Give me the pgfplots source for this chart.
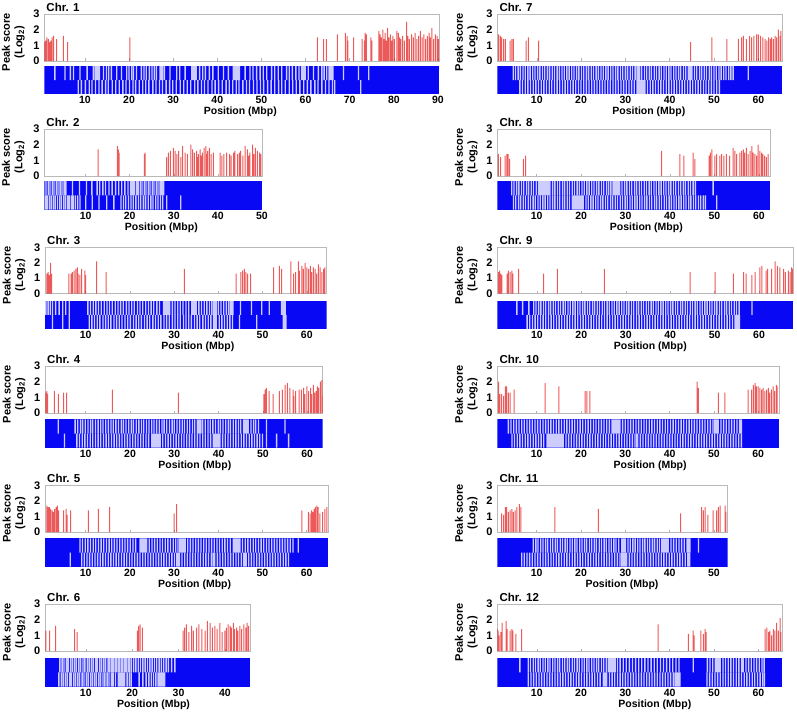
\documentclass[border=0pt]{standalone}
\usepackage{fontspec}
\setmainfont{Liberation Sans}
\usepackage{pgfplots}
\pgfplotsset{compat=1.18}
\definecolor{pk}{RGB}{228,18,18}
\definecolor{bb}{RGB}{8,8,245}
\newcommand\tf{\bfseries\fontsize{10.5}{12}\selectfont}
\newcommand\yf{\bfseries\fontsize{11}{12.5}\selectfont}
\pgfplotsset{
  /pgf/number format/assume math mode=true,
  topax/.style={scale only axis, anchor=north west, ymin=0, ymax=3, ytick={0,1,2,3},
    xtick={10,20,...,90}, xticklabels={}, xtick pos=bottom, ytick pos=left, tick align=inside,
    major tick length=2.5pt, x tick style={gray!60, line width=0.5pt}, y tick style={draw=none},
    axis line style={gray!55, line width=0.6pt},
    yticklabel style={font=\yf, inner sep=0pt, xshift=-4.5pt},
    every axis title/.style={at={(axis description cs:0,1)}, anchor=base west, xshift=2pt, yshift=3pt, inner sep=0pt, font=\bfseries\fontsize{11.5}{13}\selectfont},
    ylabel={Peak score\\(Log\textsubscript{2})},
    every axis y label/.style={at={(axis description cs:0,0.4)}, xshift=-31pt, rotate=90, anchor=center, align=center, font=\yf},
  },
  stripax/.style={scale only axis, anchor=north west, ymin=-1, ymax=1, ytick=\empty,
    xtick={10,20,...,90}, major tick length=0pt, axis line style={draw=none},
    xticklabel style={font=\tf, inner sep=2pt},
    xlabel={Position (Mbp)}, xlabel style={font=\tf, inner sep=1pt}},
  pkbar/.style={ybar, bar width=1pt, bar shift=0pt, fill=pk, draw=none, fill opacity=0.7},
  gapbar/.style={ybar, bar width=0.3, bar shift=0pt, fill=white, draw=none, fill opacity=0.8},
  bluefill/.style={fill=bb, draw=none},
}
\begin{document}
\begin{tikzpicture}
\path[use as bounding box] (0pt,0pt) rectangle (797pt,-712pt);
% ================= Chr 1 =================
\begin{axis}[topax, at={(44.3pt,-14pt)}, width=395pt, height=47pt, xmin=0.8, xmax=90.3, title={Chr. 1}]
\addplot[pkbar] coordinates {(0.9,1.2)(1.1,1.3)(1.4,1.5)(1.7,1.4)(2.0,1.2)(2.3,1.3)(2.6,1.5)(2.9,1.6)(3.6,1.4)(5.1,1.6)(6.1,1.2)(20.2,1.5)(62.7,1.5)(64.1,1.4)(64.7,1.4)(67.2,1.7)(69.0,1.8)(69.4,1.6)(69.6,1.3)(70.9,1.5)(72.8,1.4)(73.3,1.3)(73.5,1.8)(73.8,1.7)(74.8,1.5)(75.0,1.3)(76.6,1.9)(76.9,1.7)(77.2,1.5)(77.5,2.0)(77.8,1.4)(78.0,1.8)(78.3,1.3)(78.6,2.1)(78.9,1.5)(79.2,1.7)(79.5,1.3)(79.8,1.6)(80.1,1.4)(80.7,1.9)(81.0,1.8)(81.3,1.5)(81.6,1.4)(82.0,1.6)(82.4,1.3)(82.9,2.5)(83.2,1.6)(83.5,1.4)(84.0,1.7)(84.4,1.5)(84.8,1.8)(85.2,1.4)(85.6,1.6)(86.0,1.9)(86.4,1.5)(86.8,1.7)(87.2,1.4)(87.6,1.6)(88.0,1.8)(88.3,1.5)(88.6,2.1)(89.0,1.4)(89.4,1.7)(89.8,1.6)(90.1,1.4)};
\end{axis}
\begin{axis}[stripax, at={(44.3pt,-65.7pt)}, width=395pt, height=28.6pt, xmin=0.8, xmax=90.3, xlabel style={xshift=-1.5pt}]
\addplot[bluefill] coordinates {(0.8,-1)(90.3,-1)(90.3,1)(0.8,1)} -- cycle;
\addplot[gapbar] coordinates {(3.2,1)(5.5,1)(6.7,1)(7.4,1)(8.9,1)(10.5,1)(11.9,1)(12.3,1)(12.5,1)(12.7,1)(12.9,1)(13.1,1)(13.3,1)(14.2,1)(14.9,1)(15.4,1)(16.0,1)(17.2,1)(18.3,1)(19.5,1)(20.0,1)(20.6,1)(21.0,1)(21.7,1)(22.8,1)(23.4,1)(23.9,1)(24.6,1)(25.2,1)(25.7,1)(26.2,1)(27.0,1)(27.3,1)(27.6,1)(28.0,1)(29.3,1)(30.8,1)(31.5,1)(32.7,1)(34.2,1)(34.4,1)(34.6,1)(34.8,1)(35.0,1)(35.2,1)(36.0,1)(36.7,1)(37.3,1)(38.2,1)(39.0,1)(40.2,1)(41.4,1)(42.5,1)(43.6,1)(43.8,1)(44.0,1)(44.2,1)(44.4,1)(44.7,1)(45.0,1)(46.3,1)(47.4,1)(48.1,1)(48.9,1)(49.7,1)(50.4,1)(51.2,1)(52.3,1)(53.0,1)(53.8,1)(54.6,1)(55.7,1)(56.3,1)(57.0,1)(57.8,1)(58.5,1)(59.1,1)(59.3,1)(59.5,1)(59.7,1)(59.9,1)(60.6,1)(61.8,1)(62.9,1)(63.7,1)(64.2,1)(64.8,1)(65.3,1)(65.6,1)(65.9,1)(66.2,1)(68.6,1)(72.0,1)(74.3,1)};
\addplot[gapbar] coordinates {(8.5,-1)(9.2,-1)(10.1,-1)(11.0,-1)(11.6,-1)(12.4,-1)(13.2,-1)(13.9,-1)(14.7,-1)(15.3,-1)(16.2,-1)(17.0,-1)(17.8,-1)(18.6,-1)(19.3,-1)(20.1,-1)(20.9,-1)(21.5,-1)(22.3,-1)(23.1,-1)(23.8,-1)(24.5,-1)(25.4,-1)(26.1,-1)(26.9,-1)(27.6,-1)(28.4,-1)(29.2,-1)(29.9,-1)(30.7,-1)(31.6,-1)(32.4,-1)(33.2,-1)(34.0,-1)(34.9,-1)(35.6,-1)(36.4,-1)(37.1,-1)(37.9,-1)(38.8,-1)(39.5,-1)(40.3,-1)(41.1,-1)(42.0,-1)(42.7,-1)(43.5,-1)(44.3,-1)(44.9,-1)(45.8,-1)(46.6,-1)(47.3,-1)(48.2,-1)(49.0,-1)(49.8,-1)(50.5,-1)(51.4,-1)(52.2,-1)(53.0,-1)(53.9,-1)(54.6,-1)(55.4,-1)(56.3,-1)(57.1,-1)(57.9,-1)(58.7,-1)(59.6,-1)(60.4,-1)(61.2,-1)(62.1,-1)(62.8,-1)(63.7,-1)(64.5,-1)(65.3,-1)(66.1,-1)(66.6,-1)(72.5,-1)};
\end{axis}
% ================= Chr 2 =================
\begin{axis}[topax, at={(44.3pt,-129pt)}, width=218pt, height=47pt, xmin=0.6, xmax=50.1, title={Chr. 2}]
\addplot[pkbar] coordinates {(12.8,1.7)(17.2,1.9)(17.4,1.7)(17.6,1.5)(23.3,1.4)(23.5,1.5)(28.4,1.2)(28.8,1.5)(29.2,1.6)(29.9,1.8)(30.3,1.6)(30.7,1.4)(31.1,1.6)(31.6,1.2)(32.0,1.9)(32.6,1.5)(33.1,1.4)(33.9,2.0)(34.3,1.7)(34.7,1.5)(35.2,1.6)(35.4,1.2)(35.6,1.4)(36.0,1.7)(36.2,1.3)(36.5,1.5)(36.9,1.8)(37.3,1.9)(37.5,1.4)(37.7,1.6)(38.1,1.8)(38.5,1.4)(39.0,1.5)(40.5,1.5)(40.9,1.3)(41.4,1.4)(42.0,1.5)(42.7,1.4)(43.0,1.3)(43.6,1.5)(43.9,1.6)(44.5,1.4)(44.9,1.5)(45.2,1.6)(45.7,1.3)(46.2,1.9)(46.7,1.7)(47.0,1.3)(47.3,1.5)(47.9,2.0)(48.2,1.4)(48.5,1.8)(49.0,1.6)(49.5,1.5)(49.8,1.4)};
\end{axis}
\begin{axis}[stripax, at={(44.3pt,-181pt)}, width=218pt, height=28.7pt, xmin=0.6, xmax=50.1, xlabel style={xshift=8pt}]
\addplot[bluefill] coordinates {(0.6,-1)(50.1,-1)(50.1,1)(0.6,1)} -- cycle;
\addplot[gapbar] coordinates {(1.0,1)(1.5,1)(1.9,1)(2.4,1)(2.8,1)(3.3,1)(3.7,1)(4.2,1)(4.6,1)(5.1,1)(5.5,1)(7.0,1)(8.6,1)(10.2,1)(11.4,1)(12.6,1)(13.2,1)(13.9,1)(14.5,1)(15.3,1)(16.0,1)(16.8,1)(17.5,1)(18.2,1)(18.9,1)(19.6,1)(20.2,1)(20.6,1)(21.0,1)(21.5,1)(21.9,1)(22.4,1)(22.8,1)(23.3,1)(23.7,1)(24.2,1)(24.6,1)(25.1,1)(25.5,1)(26.0,1)(26.4,1)(26.9,1)(27.3,1)(27.7,1)};
\addplot[gapbar] coordinates {(0.9,-1)(1.3,-1)(1.8,-1)(2.2,-1)(2.7,-1)(3.1,-1)(3.6,-1)(4.1,-1)(4.5,-1)(5.0,-1)(5.4,-1)(5.9,-1)(6.3,-1)(6.8,-1)(7.2,-1)(7.7,-1)(8.2,-1)(8.7,-1)(10.0,-1)(11.5,-1)(13.0,-1)(14.8,-1)(16.4,-1)(18.0,-1)(18.6,-1)(19.1,-1)(19.7,-1)(20.3,-1)(20.8,-1)(21.4,-1)(22.0,-1)(22.5,-1)(23.1,-1)(23.6,-1)(24.2,-1)(24.8,-1)(25.3,-1)(25.9,-1)(26.4,-1)(27.0,-1)(27.5,-1)(28.4,-1)(31.6,-1)};
\end{axis}
% ================= Chr 3 =================
\begin{axis}[topax, at={(45pt,-247.5pt)}, width=281.7pt, height=46pt, xmin=0.8, xmax=64.5, title={Chr. 3}]
\addplot[pkbar] coordinates {(1.2,1.3)(1.5,1.4)(1.8,1.2)(2.1,2.0)(2.3,1.3)(6.2,1.3)(6.7,1.3)(7.0,1.4)(7.4,1.5)(7.8,1.6)(8.1,1.7)(8.3,1.3)(8.7,1.2)(9.1,1.6)(9.8,1.5)(10.0,1.2)(12.5,2.1)(14.6,1.4)(32.3,1.6)(44.0,1.3)(45.1,1.4)(45.5,1.5)(45.9,1.6)(46.2,1.4)(46.6,1.3)(47.3,1.3)(52.5,1.7)(53.8,1.8)(54.3,1.6)(56.4,2.1)(57.0,1.3)(57.5,1.4)(58.1,2.1)(58.3,1.5)(58.9,1.8)(59.2,1.6)(59.6,2.0)(60.0,1.7)(60.4,1.6)(60.8,1.8)(61.1,1.4)(61.5,1.7)(61.9,1.6)(62.2,1.3)(62.6,1.9)(63.0,1.7)(63.4,1.4)(63.8,1.6)(64.1,1.7)};
\end{axis}
\begin{axis}[stripax, at={(45pt,-300.7pt)}, width=281.7pt, height=28.3pt, xmin=0.8, xmax=64.5, xlabel style={xshift=12pt}]
\addplot[bluefill] coordinates {(0.8,-1)(64.5,-1)(64.5,1)(0.8,1)} -- cycle;
\addplot[gapbar] coordinates {(1.0,1)(1.5,1)(2.0,1)(2.5,1)(3.2,1)(4.0,1)(4.8,1)(5.5,1)(6.3,1)(10.5,1)(11.1,1)(11.7,1)(12.3,1)(12.9,1)(13.5,1)(14.2,1)(14.8,1)(15.4,1)(16.0,1)(16.7,1)(17.3,1)(17.9,1)(18.5,1)(19.2,1)(19.8,1)(20.4,1)(21.0,1)(21.7,1)(22.3,1)(22.9,1)(23.6,1)(24.2,1)(24.8,1)(25.4,1)(26.1,1)(26.7,1)(27.6,1)(27.8,1)(28.0,1)(28.2,1)(28.4,1)(28.6,1)(28.8,1)(29.0,1)(29.6,1)(30.2,1)(30.8,1)(31.4,1)(32.0,1)(32.7,1)(33.3,1)(34.0,1)(34.2,1)(34.4,1)(34.6,1)(34.8,1)(35.0,1)(35.6,1)(36.2,1)(36.8,1)(37.4,1)(38.0,1)(38.5,1)(38.9,1)(39.1,1)(39.3,1)(39.5,1)(40.0,1)(40.6,1)(41.2,1)(41.8,1)(42.3,1)(42.7,1)(42.9,1)(43.1,1)(43.3,1)(45.0,1)(47.5,1)(49.8,1)(51.5,1)(54.3,1)(54.5,1)(54.7,1)(54.9,1)(55.1,1)};
\addplot[gapbar] coordinates {(2.5,-1)(4.8,-1)(6.3,-1)(10.8,-1)(11.4,-1)(12.0,-1)(12.6,-1)(13.2,-1)(13.9,-1)(14.5,-1)(15.1,-1)(15.7,-1)(16.4,-1)(17.0,-1)(17.6,-1)(18.2,-1)(18.9,-1)(19.5,-1)(20.1,-1)(20.8,-1)(21.4,-1)(22.0,-1)(22.6,-1)(23.3,-1)(23.9,-1)(24.5,-1)(25.2,-1)(25.8,-1)(26.4,-1)(27.0,-1)(27.7,-1)(28.3,-1)(28.9,-1)(29.6,-1)(30.2,-1)(30.8,-1)(31.4,-1)(32.1,-1)(32.7,-1)(33.3,-1)(33.9,-1)(34.6,-1)(35.2,-1)(35.8,-1)(36.5,-1)(37.1,-1)(37.7,-1)(38.3,-1)(38.9,-1)(39.1,-1)(39.3,-1)(39.5,-1)(40.2,-1)(40.8,-1)(41.4,-1)(42.0,-1)(42.6,-1)(43.2,-1)(44.8,-1)(48.7,-1)(54.7,-1)(54.9,-1)(55.1,-1)(55.3,-1)};
\end{axis}
% ================= Chr 4 =================
\begin{axis}[topax, at={(45pt,-366pt)}, width=277.7pt, height=47pt, xmin=0.8, xmax=63.5, title={Chr. 4}]
\addplot[pkbar] coordinates {(1.0,1.3)(1.2,1.4)(1.4,1.2)(2.9,1.4)(3.8,1.2)(5.0,1.3)(5.7,1.3)(16.0,1.5)(30.9,1.3)(50.2,1.2)(50.5,1.5)(50.8,1.6)(51.4,1.4)(52.3,1.2)(53.7,1.4)(54.4,1.5)(55.0,1.8)(55.5,1.9)(56.1,1.6)(56.8,1.5)(57.0,1.1)(57.4,1.4)(58.2,1.5)(58.7,1.5)(59.2,1.6)(59.5,1.2)(59.9,1.7)(60.3,1.4)(60.8,1.6)(61.0,1.2)(61.4,1.8)(61.7,1.3)(62.0,1.4)(62.3,1.7)(62.6,1.6)(63.0,2.0)(63.3,2.1)(63.4,1.1)};
\end{axis}
\begin{axis}[stripax, at={(45pt,-419.3pt)}, width=277.7pt, height=28.4pt, xmin=0.8, xmax=63.5, xlabel style={xshift=11pt}]
\addplot[bluefill] coordinates {(0.8,-1)(63.5,-1)(63.5,1)(0.8,1)} -- cycle;
\addplot[gapbar] coordinates {(3.8,1)(7.6,1)(8.2,1)(8.8,1)(9.3,1)(9.9,1)(10.5,1)(11.1,1)(11.6,1)(12.2,1)(12.8,1)(13.4,1)(13.9,1)(14.5,1)(15.1,1)(15.7,1)(16.2,1)(16.8,1)(17.4,1)(18.0,1)(18.5,1)(19.1,1)(19.7,1)(20.3,1)(20.8,1)(21.4,1)(22.0,1)(22.6,1)(23.1,1)(23.7,1)(24.3,1)(24.9,1)(25.4,1)(26.0,1)(26.6,1)(27.2,1)(27.7,1)(28.3,1)(28.9,1)(29.5,1)(30.0,1)(30.6,1)(31.2,1)(31.8,1)(32.3,1)(32.9,1)(33.5,1)(34.1,1)(34.6,1)(35.2,1)(35.6,1)(35.8,1)(36.0,1)(36.4,1)(37.0,1)(37.6,1)(38.1,1)(38.7,1)(39.3,1)(39.9,1)(40.4,1)(41.0,1)(41.6,1)(42.2,1)(42.7,1)(43.3,1)(43.9,1)(44.5,1)(45.0,1)(45.6,1)(45.9,1)(46.1,1)(46.3,1)(46.5,1)(46.7,1)(47.3,1)(47.9,1)(48.4,1)(49.0,1)(50.8,1)(55.0,1)};
\addplot[gapbar] coordinates {(5.2,-1)(8.0,-1)(8.6,-1)(9.2,-1)(9.8,-1)(10.4,-1)(11.0,-1)(11.6,-1)(12.2,-1)(12.8,-1)(13.4,-1)(14.0,-1)(14.6,-1)(15.2,-1)(15.8,-1)(16.4,-1)(17.0,-1)(17.6,-1)(18.2,-1)(18.8,-1)(19.4,-1)(20.0,-1)(20.6,-1)(21.2,-1)(21.8,-1)(22.4,-1)(23.0,-1)(23.6,-1)(24.2,-1)(24.9,-1)(25.1,-1)(25.3,-1)(25.5,-1)(25.7,-1)(25.9,-1)(26.1,-1)(26.3,-1)(26.5,-1)(26.8,-1)(27.4,-1)(28.0,-1)(28.6,-1)(29.2,-1)(29.8,-1)(30.4,-1)(31.0,-1)(31.6,-1)(32.2,-1)(32.8,-1)(33.4,-1)(34.0,-1)(34.6,-1)(35.2,-1)(35.8,-1)(36.4,-1)(37.0,-1)(37.6,-1)(38.2,-1)(38.8,-1)(39.0,-1)(39.2,-1)(39.4,-1)(39.6,-1)(39.8,-1)(40.0,-1)(40.3,-1)(40.9,-1)(41.5,-1)(42.1,-1)(42.7,-1)(43.3,-1)(43.9,-1)(44.5,-1)(45.1,-1)(45.7,-1)(46.3,-1)(46.9,-1)(47.5,-1)(48.1,-1)(48.7,-1)(49.3,-1)(49.9,-1)(50.8,-1)(53.1,-1)(55.8,-1)};
\end{axis}
% ================= Chr 5 =================
\begin{axis}[topax, at={(45pt,-485.5pt)}, width=283.3pt, height=46.5pt, xmin=0.8, xmax=64.9, title={Chr. 5}]
\addplot[pkbar] coordinates {(1.2,1.7)(1.5,1.6)(1.8,1.6)(2.1,1.5)(2.4,1.4)(2.7,1.3)(3.0,1.5)(3.3,1.6)(3.6,1.7)(3.9,1.4)(5.0,1.4)(5.6,1.5)(5.8,1.1)(6.6,1.4)(10.6,1.4)(12.9,1.5)(15.4,1.6)(30.0,1.2)(30.6,1.8)(58.9,1.4)(60.4,1.3)(60.8,1.2)(61.1,1.4)(61.4,1.3)(61.7,1.5)(62.0,1.6)(62.3,1.7)(62.6,1.6)(63.0,1.2)(63.6,1.3)(64.1,1.5)(64.6,1.6)};
\end{axis}
\begin{axis}[stripax, at={(45pt,-538.3pt)}, width=283.3pt, height=28.4pt, xmin=0.8, xmax=64.9, xlabel style={xshift=8pt}]
\addplot[bluefill] coordinates {(0.8,-1)(64.9,-1)(64.9,1)(0.8,1)} -- cycle;
\addplot[gapbar] coordinates {(8.7,1)(9.3,1)(9.9,1)(10.5,1)(11.1,1)(11.7,1)(12.3,1)(12.9,1)(13.5,1)(14.1,1)(14.7,1)(15.3,1)(15.9,1)(16.5,1)(17.1,1)(17.7,1)(18.3,1)(18.9,1)(19.5,1)(20.1,1)(20.7,1)(21.3,1)(22.3,1)(22.5,1)(22.7,1)(22.9,1)(23.1,1)(23.3,1)(23.5,1)(23.8,1)(24.4,1)(25.0,1)(25.6,1)(26.2,1)(26.8,1)(27.4,1)(28.0,1)(28.6,1)(29.2,1)(29.8,1)(30.4,1)(30.9,1)(31.3,1)(31.5,1)(31.7,1)(31.9,1)(32.1,1)(32.3,1)(32.5,1)(33.1,1)(33.7,1)(34.3,1)(34.9,1)(35.5,1)(36.1,1)(36.7,1)(37.3,1)(37.9,1)(38.5,1)(39.1,1)(39.7,1)(40.3,1)(40.9,1)(41.5,1)(42.1,1)(42.7,1)(43.4,1)(43.6,1)(43.8,1)(44.0,1)(44.2,1)(44.4,1)(44.6,1)(44.9,1)(45.5,1)(46.1,1)(46.7,1)(47.3,1)(47.9,1)(48.5,1)(49.1,1)(49.7,1)(50.3,1)(50.9,1)(51.5,1)(52.1,1)(52.7,1)(53.3,1)(53.9,1)(54.5,1)(55.1,1)(55.7,1)(56.3,1)(56.9,1)(58.1,1)};
\addplot[gapbar] coordinates {(6.5,-1)(9.1,-1)(9.7,-1)(10.3,-1)(10.9,-1)(11.5,-1)(12.1,-1)(12.7,-1)(13.3,-1)(13.9,-1)(14.5,-1)(15.1,-1)(15.7,-1)(16.3,-1)(16.9,-1)(17.5,-1)(18.1,-1)(18.7,-1)(19.3,-1)(19.9,-1)(20.5,-1)(21.1,-1)(21.7,-1)(22.3,-1)(22.9,-1)(23.5,-1)(24.1,-1)(24.7,-1)(25.3,-1)(25.9,-1)(26.5,-1)(27.1,-1)(27.7,-1)(28.3,-1)(28.9,-1)(29.5,-1)(30.1,-1)(30.6,-1)(30.8,-1)(31.0,-1)(31.2,-1)(31.8,-1)(32.4,-1)(33.0,-1)(33.6,-1)(34.2,-1)(34.8,-1)(35.4,-1)(36.0,-1)(36.6,-1)(37.2,-1)(37.8,-1)(38.4,-1)(38.8,-1)(39.0,-1)(39.2,-1)(39.8,-1)(40.4,-1)(41.0,-1)(41.6,-1)(42.2,-1)(42.8,-1)(43.4,-1)(44.0,-1)(44.6,-1)(45.2,-1)(45.7,-1)(45.9,-1)(46.1,-1)(46.3,-1)(46.9,-1)(47.5,-1)(48.1,-1)(48.7,-1)(49.3,-1)(49.9,-1)(50.5,-1)(51.1,-1)(51.7,-1)(52.3,-1)(52.9,-1)(53.5,-1)(54.1,-1)(54.7,-1)(55.3,-1)(55.9,-1)};
\end{axis}
% ================= Chr 6 =================
\begin{axis}[topax, at={(45pt,-604pt)}, width=205pt, height=47pt, xmin=1.2, xmax=45.4, title={Chr. 6}]
\addplot[pkbar] coordinates {(1.4,1.3)(2.2,1.3)(3.5,1.6)(7.6,1.4)(8.1,1.2)(21.1,1.3)(21.4,1.6)(21.7,1.7)(22.2,1.5)(31.0,1.3)(31.3,1.5)(31.7,1.7)(32.2,1.2)(32.8,1.6)(33.2,1.3)(33.9,1.5)(34.4,1.7)(35.0,1.4)(35.7,1.3)(36.2,1.9)(36.8,1.8)(37.3,1.5)(37.8,1.6)(38.3,1.4)(38.9,1.8)(39.4,1.2)(40.0,1.3)(40.3,1.5)(40.7,1.7)(41.1,1.6)(41.4,1.5)(41.8,1.8)(42.1,1.4)(42.5,1.5)(42.8,1.3)(43.2,1.6)(43.6,1.4)(44.1,1.7)(44.5,1.5)(44.8,1.8)(45.1,1.6)};
\end{axis}
\begin{axis}[stripax, at={(45pt,-658pt)}, width=205pt, height=28.7pt, xmin=1.2, xmax=45.4, xlabel style={xshift=6pt}]
\addplot[bluefill] coordinates {(1.2,-1)(45.4,-1)(45.4,1)(1.2,1)} -- cycle;
\addplot[gapbar] coordinates {(4.4,1)(4.9,1)(5.3,1)(5.8,1)(6.2,1)(6.7,1)(7.1,1)(7.6,1)(8.0,1)(8.5,1)(8.9,1)(9.4,1)(9.8,1)(10.3,1)(10.7,1)(11.2,1)(11.6,1)(12.1,1)(12.5,1)(13.0,1)(13.4,1)(13.9,1)(14.3,1)(14.8,1)(15.2,1)(15.6,1)(15.9,1)(16.3,1)(16.6,1)(17.0,1)(17.3,1)(17.7,1)(18.0,1)(18.4,1)(18.7,1)(19.1,1)(19.4,1)(19.8,1)(20.3,1)(20.8,1)(21.3,1)(21.8,1)(22.3,1)(22.8,1)(23.3,1)(23.8,1)(24.3,1)(24.8,1)(25.3,1)(25.8,1)(26.3,1)(26.8,1)(27.3,1)(27.8,1)(28.5,1)(29.2,1)};
\addplot[gapbar] coordinates {(4.2,-1)(4.7,-1)(5.1,-1)(5.6,-1)(6.0,-1)(6.5,-1)(6.9,-1)(7.4,-1)(7.8,-1)(8.3,-1)(8.7,-1)(9.2,-1)(9.6,-1)(10.1,-1)(10.5,-1)(11.0,-1)(11.4,-1)(11.9,-1)(12.3,-1)(12.8,-1)(13.2,-1)(13.7,-1)(14.1,-1)(14.6,-1)(15.0,-1)(15.5,-1)(15.9,-1)(16.4,-1)(17.0,-1)(17.2,-1)(17.4,-1)(17.6,-1)(17.8,-1)(18.0,-1)(18.2,-1)(18.4,-1)(18.9,-1)(19.4,-1)(19.8,-1)(21.5,-1)(22.3,-1)(23.0,-1)(23.6,-1)(24.1,-1)(24.6,-1)(25.1,-1)(25.6,-1)(25.8,-1)(26.0,-1)(26.2,-1)(26.4,-1)(26.6,-1)(26.8,-1)(27.0,-1)};
\end{axis}
% ================= Chr 7 =================
\begin{axis}[topax, at={(497.3pt,-14pt)}, width=285pt, height=47pt, xmin=1.1, xmax=65.4, title={Chr. 7}]
\addplot[pkbar] coordinates {(1.4,1.7)(1.8,1.6)(2.1,1.5)(2.5,1.4)(2.9,1.4)(4.0,1.3)(4.4,1.4)(4.7,1.4)(7.6,1.3)(8.1,1.5)(10.4,1.3)(44.7,1.2)(49.5,1.5)(52.9,1.4)(55.5,1.4)(56.2,1.5)(56.6,1.6)(57.3,1.4)(58.0,1.6)(58.5,1.5)(59.0,1.6)(59.6,1.7)(60.0,1.7)(60.5,1.6)(61.0,1.5)(61.5,1.4)(61.9,1.3)(62.3,1.5)(62.7,1.4)(63.0,1.5)(63.4,1.4)(63.8,1.6)(64.1,1.5)(64.5,2.0)(64.9,1.6)(65.1,1.9)};
\end{axis}
\begin{axis}[stripax, at={(497.3pt,-65.7pt)}, width=285pt, height=28.6pt, xmin=1.1, xmax=65.4, xlabel style={xshift=9pt}]
\addplot[bluefill] coordinates {(1.1,-1)(65.4,-1)(65.4,1)(1.1,1)} -- cycle;
\addplot[gapbar] coordinates {(4.7,1)(5.2,1)(5.8,1)(6.3,1)(6.9,1)(7.4,1)(8.0,1)(8.5,1)(9.1,1)(9.6,1)(10.2,1)(10.7,1)(11.3,1)(11.8,1)(12.4,1)(12.9,1)(13.5,1)(14.0,1)(14.6,1)(15.1,1)(15.7,1)(16.2,1)(16.8,1)(17.3,1)(17.9,1)(18.4,1)(19.0,1)(19.5,1)(20.1,1)(20.6,1)(21.2,1)(21.7,1)(22.3,1)(22.8,1)(23.4,1)(23.9,1)(24.5,1)(25.0,1)(25.6,1)(26.1,1)(26.7,1)(27.2,1)(27.8,1)(28.3,1)(28.9,1)(29.4,1)(30.0,1)(30.5,1)(31.1,1)(31.6,1)(32.2,1)(32.6,1)(32.8,1)(33.0,1)(33.2,1)(33.7,1)(34.3,1)(34.8,1)(35.4,1)(35.9,1)(36.5,1)(37.0,1)(37.6,1)(38.1,1)(38.7,1)(39.2,1)(39.8,1)(40.3,1)(40.9,1)(41.4,1)(42.0,1)(42.5,1)(43.1,1)(43.6,1)(44.2,1)(44.4,1)(44.6,1)(44.8,1)(45.0,1)(45.6,1)(46.1,1)(46.7,1)(47.2,1)(47.8,1)(48.3,1)(48.9,1)(49.4,1)(50.0,1)(50.5,1)(51.1,1)(51.6,1)(52.2,1)(52.7,1)(53.3,1)(53.8,1)(54.3,1)(57.7,1)};
\addplot[gapbar] coordinates {(6.2,-1)(6.8,-1)(7.4,-1)(8.0,-1)(8.6,-1)(9.2,-1)(9.8,-1)(10.4,-1)(11.0,-1)(11.6,-1)(12.2,-1)(12.8,-1)(13.4,-1)(14.0,-1)(14.6,-1)(15.2,-1)(15.8,-1)(16.4,-1)(17.0,-1)(17.6,-1)(18.2,-1)(18.8,-1)(19.4,-1)(20.0,-1)(20.6,-1)(21.2,-1)(21.8,-1)(22.4,-1)(23.0,-1)(23.6,-1)(24.2,-1)(24.8,-1)(25.4,-1)(26.0,-1)(26.6,-1)(27.2,-1)(27.8,-1)(28.4,-1)(29.0,-1)(29.6,-1)(30.2,-1)(30.8,-1)(31.4,-1)(32.0,-1)(32.6,-1)(32.8,-1)(33.0,-1)(33.2,-1)(33.4,-1)(33.6,-1)(33.8,-1)(34.0,-1)(34.2,-1)(34.4,-1)(35.0,-1)(35.6,-1)(36.2,-1)(36.8,-1)(37.4,-1)(38.0,-1)(38.6,-1)(39.2,-1)(39.8,-1)(40.4,-1)(41.0,-1)(41.6,-1)(42.2,-1)(42.8,-1)(43.4,-1)(44.0,-1)(44.6,-1)(45.2,-1)(45.8,-1)(46.4,-1)(47.0,-1)(47.6,-1)(48.2,-1)(48.8,-1)(49.4,-1)(50.0,-1)(50.6,-1)(51.2,-1)};
\end{axis}
% ================= Chr 8 =================
\begin{axis}[topax, at={(497.3pt,-129pt)}, width=272.7pt, height=47pt, xmin=1.15, xmax=62.5, title={Chr. 8}]
\addplot[pkbar] coordinates {(1.4,1.4)(1.9,1.2)(2.9,1.3)(3.3,1.4)(3.6,1.4)(3.9,1.1)(7.0,1.1)(7.5,1.3)(38.1,1.6)(42.2,1.4)(43.1,1.3)(45.2,1.5)(45.6,1.1)(48.8,1.3)(49.1,1.5)(49.4,1.7)(50.1,1.3)(50.5,1.4)(51.2,1.3)(51.6,1.4)(52.1,1.3)(52.7,1.4)(53.4,1.3)(54.2,1.8)(54.6,1.6)(55.0,1.4)(55.7,1.5)(56.1,1.6)(56.5,1.7)(56.8,1.5)(57.2,1.8)(57.6,1.4)(58.0,1.6)(58.4,1.9)(58.7,1.5)(59.1,1.4)(59.5,1.3)(59.8,2.0)(60.2,1.6)(60.6,1.5)(60.9,1.4)(61.3,1.3)(61.7,1.2)(62.1,1.4)};
\end{axis}
\begin{axis}[stripax, at={(497.3pt,-181pt)}, width=272.7pt, height=28.7pt, xmin=1.15, xmax=62.5, xlabel style={xshift=12.7pt}]
\addplot[bluefill] coordinates {(1.15,-1)(62.5,-1)(62.5,1)(1.15,1)} -- cycle;
\addplot[gapbar] coordinates {(4.4,1)(4.9,1)(5.5,1)(6.0,1)(6.6,1)(7.1,1)(7.7,1)(8.2,1)(8.8,1)(9.3,1)(9.9,1)(10.4,1)(10.7,1)(10.9,1)(11.1,1)(11.3,1)(11.5,1)(11.7,1)(11.9,1)(12.1,1)(12.3,1)(12.5,1)(12.7,1)(13.0,1)(13.6,1)(14.1,1)(14.7,1)(15.2,1)(15.8,1)(16.3,1)(16.9,1)(17.4,1)(18.0,1)(18.5,1)(19.1,1)(19.6,1)(20.2,1)(20.7,1)(21.3,1)(21.8,1)(22.4,1)(22.9,1)(23.5,1)(24.0,1)(24.6,1)(25.1,1)(25.7,1)(26.2,1)(26.7,1)(27.2,1)(27.4,1)(27.6,1)(27.8,1)(28.0,1)(28.2,1)(28.4,1)(28.7,1)(29.2,1)(29.8,1)(30.3,1)(30.9,1)(31.4,1)(32.0,1)(32.5,1)(33.1,1)(33.6,1)(34.2,1)(34.7,1)(35.3,1)(35.8,1)(36.4,1)(36.9,1)(37.5,1)(38.0,1)(38.6,1)(39.1,1)(39.7,1)(40.2,1)(40.8,1)(41.3,1)(41.9,1)(42.4,1)(43.0,1)(43.5,1)(44.1,1)(44.6,1)(45.2,1)(45.7,1)(49.7,1)};
\addplot[gapbar] coordinates {(4.8,-1)(5.3,-1)(5.9,-1)(6.4,-1)(7.0,-1)(7.5,-1)(8.1,-1)(8.6,-1)(9.2,-1)(9.7,-1)(10.3,-1)(10.8,-1)(11.4,-1)(11.9,-1)(12.5,-1)(13.0,-1)(13.6,-1)(14.1,-1)(14.7,-1)(15.2,-1)(15.8,-1)(16.3,-1)(16.9,-1)(17.4,-1)(18.0,-1)(18.2,-1)(18.4,-1)(18.6,-1)(18.8,-1)(19.0,-1)(19.2,-1)(19.4,-1)(19.6,-1)(19.8,-1)(20.0,-1)(20.2,-1)(20.5,-1)(21.1,-1)(21.6,-1)(22.2,-1)(22.7,-1)(23.3,-1)(23.8,-1)(24.4,-1)(24.9,-1)(25.5,-1)(26.0,-1)(26.6,-1)(27.1,-1)(27.7,-1)(28.2,-1)(28.8,-1)(29.3,-1)(29.9,-1)(30.4,-1)(31.0,-1)(31.5,-1)(32.1,-1)(32.6,-1)(33.2,-1)(33.7,-1)(34.3,-1)(34.8,-1)(35.4,-1)(35.9,-1)(36.5,-1)(37.0,-1)(37.6,-1)(38.1,-1)(38.7,-1)(39.2,-1)(39.8,-1)(40.3,-1)(40.9,-1)(41.4,-1)(42.0,-1)(42.5,-1)(43.1,-1)(43.6,-1)(44.2,-1)(44.7,-1)(45.3,-1)(45.8,-1)(46.4,-1)(46.9,-1)(47.5,-1)(48.0,-1)(50.5,-1)};
\end{axis}
% ================= Chr 9 =================
\begin{axis}[topax, at={(497.3pt,-247.5pt)}, width=296pt, height=46pt, xmin=1.1, xmax=67.7, title={Chr. 9}]
\addplot[pkbar] coordinates {(1.4,1.4)(1.6,1.5)(1.9,1.3)(2.1,1.2)(3.3,1.3)(3.6,1.5)(4.0,1.4)(4.4,1.5)(4.6,1.3)(5.9,1.6)(11.5,1.3)(14.6,1.6)(25.2,1.6)(44.5,1.4)(50.1,1.4)(54.2,1.3)(56.5,1.4)(57.1,1.3)(58.4,1.2)(59.1,1.4)(60.2,1.7)(60.6,1.8)(61.6,1.5)(61.9,1.6)(62.8,1.6)(63.6,2.1)(64.1,1.8)(64.7,1.7)(65.5,1.6)(65.9,1.4)(66.6,1.5)(67.0,1.4)(67.3,1.7)(67.5,1.6)};
\end{axis}
\begin{axis}[stripax, at={(497.3pt,-300.7pt)}, width=296pt, height=28.3pt, xmin=1.1, xmax=67.7, xlabel style={xshift=5pt}]
\addplot[bluefill] coordinates {(1.1,-1)(67.7,-1)(67.7,1)(1.1,1)} -- cycle;
\addplot[gapbar] coordinates {(5.5,1)(6.8,1)(8.2,1)(9.3,1)(9.8,1)(10.4,1)(10.9,1)(11.5,1)(12.0,1)(12.6,1)(13.1,1)(13.7,1)(14.2,1)(14.8,1)(15.3,1)(15.9,1)(16.4,1)(17.0,1)(17.5,1)(18.1,1)(18.6,1)(19.2,1)(19.7,1)(20.3,1)(20.8,1)(21.4,1)(21.9,1)(22.5,1)(23.0,1)(23.6,1)(24.1,1)(24.7,1)(25.2,1)(25.8,1)(26.3,1)(26.9,1)(27.4,1)(28.0,1)(28.5,1)(29.1,1)(29.6,1)(30.2,1)(30.7,1)(31.3,1)(31.8,1)(32.4,1)(32.9,1)(33.5,1)(34.0,1)(34.6,1)(35.1,1)(35.7,1)(36.2,1)(36.8,1)(37.3,1)(37.9,1)(38.4,1)(39.0,1)(39.5,1)(40.1,1)(40.6,1)(41.2,1)(41.7,1)(42.3,1)(42.8,1)(43.4,1)(43.9,1)(44.5,1)(45.0,1)(45.6,1)(46.1,1)(46.7,1)(47.2,1)(47.8,1)(48.3,1)(48.9,1)(49.4,1)(50.0,1)(50.5,1)(51.1,1)(51.6,1)(52.2,1)(52.7,1)(53.3,1)(53.8,1)(54.4,1)(54.9,1)(55.5,1)(58.4,1)};
\addplot[gapbar] coordinates {(7.8,-1)(8.4,-1)(9.0,-1)(9.6,-1)(10.2,-1)(10.8,-1)(11.4,-1)(12.0,-1)(12.6,-1)(13.2,-1)(13.8,-1)(14.4,-1)(15.0,-1)(15.6,-1)(16.2,-1)(16.8,-1)(17.4,-1)(18.0,-1)(18.6,-1)(19.2,-1)(19.8,-1)(20.4,-1)(21.0,-1)(21.6,-1)(22.2,-1)(22.8,-1)(23.4,-1)(24.0,-1)(24.6,-1)(25.2,-1)(25.8,-1)(26.4,-1)(27.0,-1)(27.6,-1)(28.2,-1)(28.8,-1)(29.4,-1)(30.0,-1)(30.6,-1)(31.2,-1)(31.8,-1)(32.4,-1)(33.0,-1)(33.6,-1)(34.2,-1)(34.8,-1)(35.4,-1)(36.0,-1)(36.6,-1)(37.2,-1)(37.8,-1)(38.4,-1)(39.0,-1)(39.6,-1)(40.2,-1)(40.8,-1)(41.4,-1)(42.0,-1)(42.6,-1)(43.2,-1)(43.8,-1)(44.4,-1)(45.0,-1)(45.6,-1)(46.2,-1)(46.8,-1)(47.4,-1)(48.0,-1)(48.6,-1)(49.2,-1)(49.8,-1)(50.4,-1)(51.0,-1)(51.6,-1)(52.2,-1)(52.8,-1)(53.4,-1)(54.0,-1)(54.6,-1)(55.0,-1)(55.2,-1)(55.4,-1)(55.6,-1)};
\end{axis}
% ================= Chr 10 =================
\begin{axis}[topax, at={(497.3pt,-366pt)}, width=281.7pt, height=47pt, xmin=1.1, xmax=64.7, title={Chr. 10}]
\addplot[pkbar] coordinates {(1.4,2.0)(1.7,1.2)(2.1,1.2)(2.5,1.1)(2.9,1.7)(3.2,1.7)(3.6,1.3)(4.0,1.3)(4.9,1.5)(11.9,1.9)(15.0,1.7)(20.9,1.4)(21.3,1.4)(22.0,1.4)(46.2,2.0)(46.5,1.6)(51.0,1.3)(52.5,1.3)(57.7,1.5)(58.5,1.5)(58.9,1.8)(59.3,1.9)(59.6,1.7)(60.0,1.7)(60.4,1.6)(60.8,1.5)(61.1,1.6)(61.5,1.4)(61.9,1.5)(62.3,1.6)(62.6,1.3)(63.0,1.5)(63.4,1.7)(63.7,1.4)(64.1,1.8)(64.3,1.7)};
\end{axis}
\begin{axis}[stripax, at={(497.3pt,-419.3pt)}, width=281.7pt, height=28.4pt, xmin=1.1, xmax=64.7, xlabel style={xshift=12pt}]
\addplot[bluefill] coordinates {(1.1,-1)(64.7,-1)(64.7,1)(1.1,1)} -- cycle;
\addplot[gapbar] coordinates {(3.6,1)(4.2,1)(4.8,1)(5.4,1)(6.0,1)(6.6,1)(7.2,1)(7.8,1)(8.4,1)(9.0,1)(9.6,1)(10.2,1)(10.8,1)(11.4,1)(12.0,1)(12.6,1)(13.2,1)(13.8,1)(14.4,1)(15.0,1)(15.6,1)(16.2,1)(16.8,1)(17.4,1)(18.0,1)(18.6,1)(19.2,1)(19.8,1)(20.4,1)(21.0,1)(21.6,1)(22.2,1)(22.8,1)(23.4,1)(24.0,1)(24.6,1)(25.2,1)(25.8,1)(26.4,1)(27.0,1)(27.3,1)(27.5,1)(27.7,1)(27.9,1)(28.1,1)(28.3,1)(28.5,1)(28.8,1)(29.4,1)(30.0,1)(30.6,1)(31.2,1)(31.8,1)(32.4,1)(33.0,1)(33.6,1)(34.2,1)(34.8,1)(35.4,1)(36.0,1)(36.6,1)(37.2,1)(37.8,1)(38.4,1)(39.0,1)(39.6,1)(40.2,1)(40.8,1)(41.4,1)(42.0,1)(42.6,1)(43.2,1)(43.8,1)(44.4,1)(45.0,1)(45.6,1)(46.2,1)(46.8,1)(47.4,1)(48.0,1)(48.6,1)(49.2,1)(49.8,1)(50.2,1)(50.4,1)(50.6,1)(50.8,1)(51.0,1)(51.6,1)(52.2,1)(52.8,1)(53.4,1)(54.0,1)(54.6,1)(55.2,1)(55.8,1)(56.2,1)};
\addplot[gapbar] coordinates {(4.4,-1)(5.0,-1)(5.6,-1)(6.2,-1)(6.8,-1)(7.4,-1)(8.0,-1)(8.6,-1)(9.2,-1)(9.8,-1)(10.4,-1)(11.0,-1)(11.6,-1)(12.3,-1)(12.5,-1)(12.7,-1)(12.9,-1)(13.1,-1)(13.3,-1)(13.5,-1)(13.7,-1)(13.9,-1)(14.1,-1)(14.3,-1)(14.5,-1)(14.7,-1)(14.9,-1)(15.1,-1)(15.3,-1)(15.5,-1)(15.7,-1)(16.0,-1)(16.6,-1)(17.2,-1)(17.8,-1)(18.4,-1)(19.0,-1)(19.6,-1)(20.2,-1)(20.8,-1)(21.4,-1)(22.0,-1)(22.6,-1)(23.2,-1)(23.8,-1)(24.4,-1)(25.0,-1)(25.6,-1)(26.2,-1)(26.8,-1)(27.4,-1)(28.0,-1)(28.6,-1)(29.2,-1)(29.8,-1)(30.4,-1)(31.0,-1)(31.6,-1)(32.2,-1)(32.6,-1)(32.8,-1)(33.4,-1)(34.0,-1)(34.6,-1)(35.2,-1)(35.8,-1)(36.4,-1)(37.0,-1)(37.6,-1)(38.2,-1)(38.8,-1)(39.4,-1)(40.0,-1)(40.6,-1)(41.2,-1)(41.8,-1)(42.4,-1)(43.0,-1)(43.6,-1)(44.2,-1)(44.8,-1)(45.4,-1)(46.0,-1)(46.6,-1)(47.2,-1)(47.8,-1)(48.4,-1)(49.0,-1)(49.6,-1)(50.2,-1)(50.8,-1)(51.4,-1)(52.0,-1)(52.6,-1)(53.2,-1)(53.8,-1)(54.4,-1)(55.0,-1)(55.6,-1)(56.2,-1)};
\end{axis}
% ================= Chr 11 =================
\begin{axis}[topax, at={(497.3pt,-485.5pt)}, width=230.4pt, height=46.5pt, xmin=1.1, xmax=53.1, title={Chr. 11}]
\addplot[pkbar] coordinates {(2.1,1.2)(2.5,1.1)(2.9,1.6)(3.2,1.6)(3.6,1.3)(4.0,1.4)(4.4,1.5)(4.7,1.3)(5.1,1.4)(5.5,1.6)(6.1,1.8)(6.4,1.6)(14.1,1.6)(23.9,1.5)(42.5,1.2)(47.2,1.6)(47.6,1.4)(48.0,1.6)(48.6,1.1)(49.8,1.4)(50.6,1.4)(51.0,1.6)(51.4,1.7)(52.5,1.7)(52.7,1.3)};
\end{axis}
\begin{axis}[stripax, at={(497.3pt,-538.3pt)}, width=230.4pt, height=28.4pt, xmin=1.1, xmax=53.1, xlabel style={xshift=9.5pt}]
\addplot[bluefill] coordinates {(1.1,-1)(53.1,-1)(53.1,1)(1.1,1)} -- cycle;
\addplot[gapbar] coordinates {(9.2,1)(9.8,1)(10.3,1)(10.9,1)(11.4,1)(12.0,1)(12.5,1)(13.1,1)(13.6,1)(14.2,1)(14.7,1)(15.3,1)(15.8,1)(16.4,1)(16.9,1)(17.5,1)(18.0,1)(18.6,1)(19.1,1)(19.7,1)(20.2,1)(20.8,1)(21.3,1)(21.9,1)(22.4,1)(23.0,1)(23.5,1)(24.1,1)(24.6,1)(25.2,1)(25.7,1)(26.3,1)(26.8,1)(27.4,1)(27.9,1)(28.5,1)(29.2,1)(29.4,1)(29.6,1)(29.8,1)(30.0,1)(30.6,1)(31.1,1)(31.7,1)(32.2,1)(32.8,1)(33.3,1)(33.9,1)(34.4,1)(35.0,1)(35.5,1)(36.1,1)(36.6,1)(37.2,1)(37.7,1)(38.2,1)(38.4,1)(38.6,1)(38.8,1)(39.0,1)(39.2,1)(39.4,1)(39.7,1)(40.3,1)(40.9,1)(41.5,1)(42.1,1)(42.7,1)(43.3,1)(43.9,1)(44.2,1)(44.4,1)(44.6,1)(46.5,1)};
\addplot[gapbar] coordinates {(6.6,-1)(7.2,-1)(7.8,-1)(8.4,-1)(9.0,-1)(9.6,-1)(10.2,-1)(10.8,-1)(11.4,-1)(12.0,-1)(12.6,-1)(13.2,-1)(13.8,-1)(14.4,-1)(15.0,-1)(15.6,-1)(16.2,-1)(16.8,-1)(17.4,-1)(18.0,-1)(18.6,-1)(19.2,-1)(19.8,-1)(20.4,-1)(21.0,-1)(21.6,-1)(22.2,-1)(22.8,-1)(23.4,-1)(24.0,-1)(24.6,-1)(25.2,-1)(25.8,-1)(26.4,-1)(27.0,-1)(27.6,-1)(28.2,-1)(28.8,-1)(29.2,-1)(29.4,-1)(29.6,-1)(29.8,-1)(30.0,-1)(30.3,-1)(30.9,-1)(31.5,-1)(32.1,-1)(32.7,-1)(33.3,-1)(33.9,-1)(34.5,-1)(35.1,-1)(35.7,-1)(36.3,-1)(36.9,-1)(37.5,-1)(38.1,-1)(38.7,-1)(39.3,-1)(39.9,-1)(40.5,-1)(41.1,-1)(41.7,-1)(42.3,-1)(42.9,-1)(43.5,-1)(44.1,-1)(44.3,-1)(44.5,-1)};
\end{axis}
% ================= Chr 12 =================
\begin{axis}[topax, at={(497.3pt,-604pt)}, width=285pt, height=47pt, xmin=1.1, xmax=65.4, title={Chr. 12}]
\addplot[pkbar] coordinates {(1.1,1.4)(1.3,1.3)(1.5,1.0)(1.9,1.2)(2.2,1.8)(3.1,1.9)(3.3,1.4)(4.0,1.3)(4.4,1.4)(4.6,1.3)(5.3,1.1)(6.6,1.4)(37.4,1.7)(44.2,1.1)(45.3,1.3)(45.5,1.0)(47.0,1.3)(47.6,1.1)(48.0,1.4)(48.2,1.2)(61.5,1.4)(61.9,1.5)(62.3,1.2)(62.6,1.3)(63.0,1.0)(63.4,1.4)(63.7,1.3)(64.1,1.8)(64.5,1.3)(64.9,2.1)(65.1,1.2)};
\end{axis}
\begin{axis}[stripax, at={(497.3pt,-658pt)}, width=285pt, height=28.7pt, xmin=1.1, xmax=65.4, xlabel style={xshift=15pt}]
\addplot[bluefill] coordinates {(1.1,-1)(65.4,-1)(65.4,1)(1.1,1)} -- cycle;
\addplot[gapbar] coordinates {(6.2,1)(8.1,1)(8.6,1)(9.2,1)(9.7,1)(10.3,1)(10.8,1)(11.4,1)(11.9,1)(12.5,1)(13.0,1)(13.6,1)(14.1,1)(14.7,1)(15.2,1)(15.8,1)(16.3,1)(16.9,1)(17.4,1)(18.0,1)(18.5,1)(19.1,1)(19.6,1)(20.2,1)(20.7,1)(21.3,1)(21.8,1)(22.4,1)(22.9,1)(23.5,1)(24.0,1)(24.6,1)(25.1,1)(25.7,1)(26.2,1)(26.5,1)(26.7,1)(26.9,1)(27.1,1)(27.3,1)(27.5,1)(27.7,1)(28.2,1)(28.8,1)(29.5,1)(30.2,1)(30.9,1)(31.6,1)(32.3,1)(33.0,1)(33.7,1)(34.4,1)(35.1,1)(35.8,1)(36.5,1)(37.2,1)(37.9,1)(38.6,1)(39.3,1)(40.0,1)(40.7,1)(41.4,1)(42.1,1)(45.3,1)(48.5,1)(49.1,1)(49.7,1)(50.3,1)(50.6,1)(50.8,1)(51.0,1)(51.2,1)(51.4,1)(52.0,1)(52.6,1)(53.2,1)(53.8,1)(54.4,1)(55.0,1)(55.6,1)(56.2,1)(56.4,1)(56.6,1)(57.2,1)(57.8,1)(58.4,1)(59.0,1)(59.6,1)(60.2,1)(60.8,1)(61.3,1)};
\addplot[gapbar] coordinates {(8.1,-1)(8.7,-1)(9.3,-1)(9.9,-1)(10.5,-1)(11.1,-1)(11.7,-1)(12.3,-1)(12.9,-1)(13.5,-1)(14.1,-1)(14.7,-1)(15.3,-1)(15.9,-1)(16.5,-1)(17.1,-1)(17.7,-1)(18.3,-1)(18.9,-1)(19.5,-1)(20.1,-1)(20.7,-1)(21.3,-1)(21.9,-1)(22.5,-1)(23.1,-1)(23.7,-1)(24.3,-1)(25.0,-1)(25.2,-1)(25.4,-1)(25.6,-1)(25.8,-1)(26.4,-1)(27.0,-1)(27.6,-1)(28.2,-1)(28.8,-1)(29.4,-1)(30.0,-1)(30.6,-1)(31.2,-1)(31.8,-1)(32.4,-1)(33.0,-1)(33.6,-1)(34.2,-1)(34.8,-1)(35.4,-1)(36.0,-1)(36.6,-1)(37.2,-1)(37.8,-1)(38.4,-1)(39.0,-1)(39.6,-1)(40.2,-1)(40.8,-1)(41.2,-1)(41.4,-1)(41.6,-1)(41.8,-1)(42.0,-1)(42.3,-1)(48.4,-1)(49.0,-1)(49.6,-1)(50.2,-1)(50.8,-1)(51.4,-1)(52.0,-1)(52.6,-1)(53.2,-1)(53.8,-1)(54.4,-1)(55.0,-1)(55.6,-1)(56.2,-1)(56.8,-1)(57.4,-1)(58.0,-1)(58.6,-1)(59.2,-1)(59.8,-1)(60.4,-1)(61.0,-1)(61.4,-1)};
\end{axis}
\end{tikzpicture}
\end{document}
